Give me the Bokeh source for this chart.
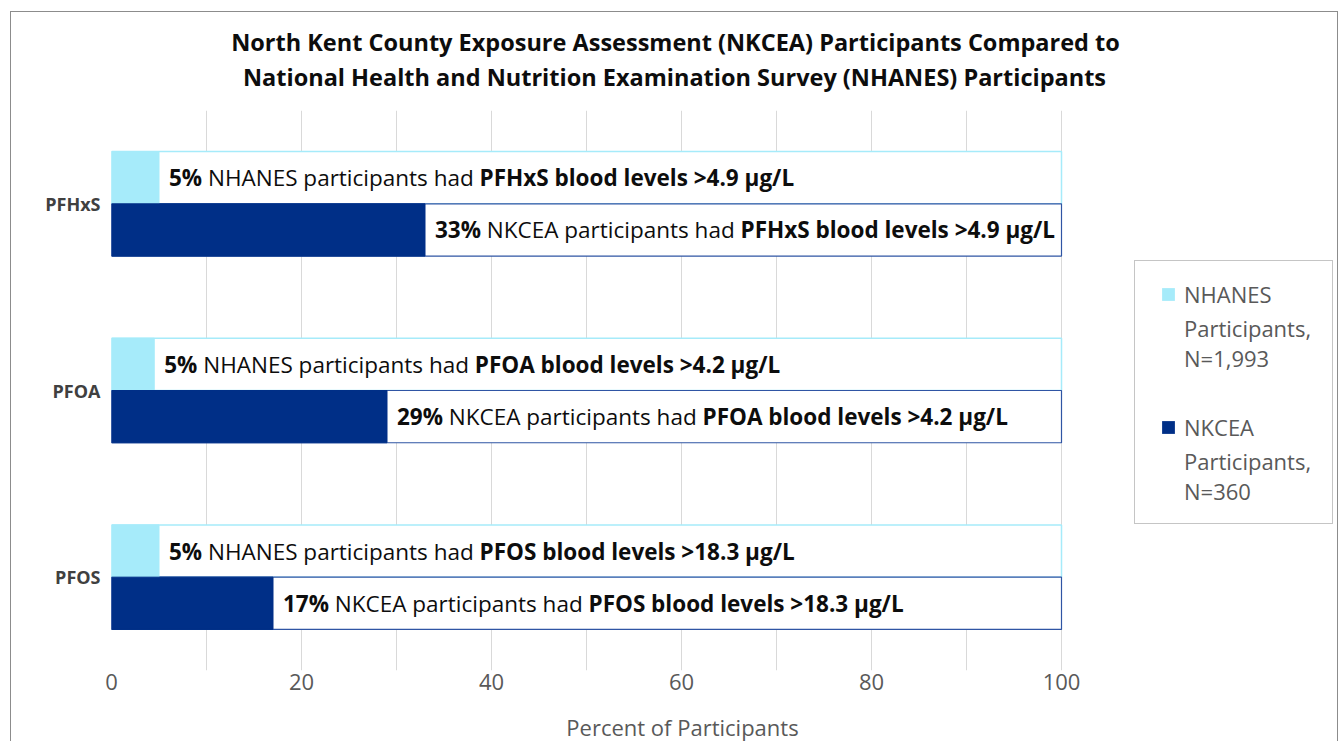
from bokeh.plotting import figure
from bokeh.models import (ColumnDataSource, FactorRange, FixedTicker, Range1d,
                          CustomJS, CDSView, IndexFilter, Legend, LegendItem, Title)
from bokeh.core.properties import value
from bokeh.transform import dodge
from bokeh.document import Document
from bokeh.embed import file_html
from bokeh.resources import INLINE

# ---------------- data ----------------
chemicals = ["PFHxS", "PFOA", "PFOS"]
thresholds = ["4.9", "4.2", "18.3"]
nhanes_pct = [5.0, 4.5, 5.0]
nkcea_pct = [33.0, 29.0, 17.0]
nhanes_label = ["5%", "5%", "5%"]
nkcea_label = ["33%", "29%", "17%"]
series_short = ["NHANES", "NKCEA"]
series_n = ["N=1,993", "N=360"]
x_ticks = [0, 20, 40, 60, 80, 100]
x_grid = [0, 10, 20, 30, 40, 50, 60, 70, 80, 90, 100]
title_lines = ["North Kent County Exposure Assessment (NKCEA) Participants Compared to",
               "National Health and Nutrition Examination Survey (NHANES) Participants"]
x_title = "Percent of Participants"

# ---------------- style ----------------
C_LIGHT = "#A6EBFA"
C_DARK = "#002F87"
FONT = "Open Sans"
W, H = 1340, 741
FL, FT, FB = 111, 110, 71                  # frame left / top / bottom border (px)
FW = W - FL
PX_PER_UNIT = 9.5                          # 0..100 spans 950 px
BAR_H = 0.28
OFF = 0.14
TXT = 22.5
TITLE_SIZE = 23.5

p = figure(width=W, height=H, output_backend="svg", toolbar_location=None,
           y_range=FactorRange(factors=list(reversed(chemicals))),
           x_range=Range1d(0, FW / PX_PER_UNIT),
           min_border_left=FL, min_border_right=0,
           min_border_top=FT, min_border_bottom=FB)
p.title = None
p.outline_line_color = None
p.background_fill_color = None
p.border_fill_color = None
p.styles = {
    "background-color": "white",
    "background-image": ("linear-gradient(#8C8C8C,#8C8C8C), linear-gradient(#8C8C8C,#8C8C8C), "
                         "linear-gradient(#8C8C8C,#8C8C8C)"),
    "background-size": "1px 760px, 1328px 1px, 1px 760px",
    "background-position": "10px 11px, 10px 11px, 1337px 11px",
    "background-repeat": "no-repeat",
}

src = ColumnDataSource(dict(cat=chemicals, nh=nhanes_pct, nk=nkcea_pct,
                            full=[100] * len(chemicals)))

y_nh = dodge("cat", OFF, range=p.y_range)
y_nk = dodge("cat", -OFF, range=p.y_range)
p.hbar(y=y_nh, left=0, right="full", height=BAR_H, source=src,
       fill_color="white", line_color=C_LIGHT, line_width=1.5)
p.hbar(y=y_nk, left=0, right="full", height=BAR_H, source=src,
       fill_color="white", line_color="#2F55A4", line_width=1.2)
p.hbar(y=y_nh, left=0, right="nh", height=BAR_H, source=src,
       fill_color=C_LIGHT, line_color=C_LIGHT, line_width=1)
p.hbar(y=y_nk, left=0, right="nk", height=BAR_H, source=src,
       fill_color=C_DARK, line_color=C_DARK, line_width=1)

# legend swatches: square markers on the bar ends with zero size in the plot
# (the legend draws them at a size derived from its glyph box)
sw_nh = p.scatter(x="nh", y=y_nh, source=src, size=0, marker="square",
                  fill_color=C_LIGHT, line_color=None)
sw_nk = p.scatter(x="nk", y=y_nk, source=src, size=0, marker="square",
                  fill_color=C_DARK, line_color=None)
sw_blank = p.scatter(x=[], y=[], marker="square", fill_color=None, line_color=None)

# ---------------- bar labels (mixed bold / regular) ----------------
cols = dict(x=[], cat=[], dy=[], text=[], fstyle=[], gid=[], xoff=[])
gid = 0
for i, chem in enumerate(chemicals):
    for pct, lab, who, off in ((nhanes_pct[i], nhanes_label[i], series_short[0], OFF),
                               (nkcea_pct[i], nkcea_label[i], series_short[1], -OFF)):
        segs = [(lab, "bold"), ("%s participants had" % who, "normal"),
                ("%s blood levels >%s µg/L" % (chem, thresholds[i]), "bold")]
        acc = 10.0
        for t, st in segs:
            cols["x"].append(pct)
            cols["cat"].append(chem)
            cols["dy"].append(off)
            cols["text"].append(t)
            cols["fstyle"].append(st)
            cols["gid"].append(gid)
            cols["xoff"].append(acc)
            acc += len(t) * TXT * (0.6 if st == "bold" else 0.55) + TXT * 0.26
        gid += 1
lab_src = ColumnDataSource(cols)

for off in (OFF, -OFF):
    idx = [k for k, d in enumerate(cols["dy"]) if d == off]
    p.text(x="x", y=dodge("cat", off, range=p.y_range), text="text", source=lab_src,
           view=CDSView(filter=IndexFilter(idx)),
           x_offset="xoff", text_font=value(FONT), text_font_size="%spx" % TXT,
           text_font_style="fstyle", text_color="#0D0D0D",
           text_align="left", text_baseline="middle")

# ---------------- axes & grid ----------------
p.xaxis.ticker = FixedTicker(ticks=x_ticks)
p.xgrid.ticker = FixedTicker(ticks=x_grid)
p.xgrid.grid_line_color = "#D9D9D9"
p.ygrid.grid_line_color = None
p.xaxis.axis_line_color = None
p.xaxis.major_tick_line_color = None
p.xaxis.minor_tick_line_color = None
p.xaxis.major_tick_out = 0
p.xaxis.major_tick_in = 0
p.xaxis.minor_tick_out = 0
p.xaxis.major_label_standoff = 3
p.xaxis.major_label_text_font = FONT
p.xaxis.major_label_text_font_size = "22px"
p.xaxis.major_label_text_color = "#595959"

p.yaxis.axis_line_color = None
p.yaxis.major_tick_line_color = None
p.yaxis.major_tick_out = 0
p.yaxis.major_tick_in = 0
p.yaxis.major_label_standoff = 11
p.yaxis.major_label_text_font = FONT
p.yaxis.major_label_text_font_size = "18px"
p.yaxis.major_label_text_font_style = "bold"
p.yaxis.major_label_text_color = "#404040"

# ---------------- titles ----------------
spacer = Title(text=" ", text_font_size="1px", standoff=14)
t2 = Title(text=title_lines[1], align="left", offset=110, standoff=2,
           text_font=FONT, text_font_size="%spx" % TITLE_SIZE, text_font_style="bold",
           text_color="#0D0D0D")
t1 = Title(text=title_lines[0], align="left", offset=100, standoff=0,
           text_font=FONT, text_font_size="%spx" % TITLE_SIZE, text_font_style="bold",
           text_color="#0D0D0D")
p.add_layout(spacer, "above")
p.add_layout(t2, "above")
p.add_layout(t1, "above")

spacer_b = Title(text=" ", text_font_size="1px", standoff=14)
xt = Title(text=x_title, align="left", offset=455, standoff=0, vertical_align="bottom",
           text_font=FONT, text_font_size="22px", text_font_style="normal",
           text_color="#595959")
p.add_layout(spacer_b, "below")
p.add_layout(xt, "below")

# ---------------- legend ----------------
legend = Legend(items=[LegendItem(label=series_short[0], renderers=[sw_nh]),
                       LegendItem(label="Participants,\n%s" % series_n[0], renderers=[sw_blank]),
                       LegendItem(label=" ", renderers=[sw_blank]),
                       LegendItem(label=series_short[1], renderers=[sw_nk]),
                       LegendItem(label="Participants,\n%s" % series_n[1], renderers=[sw_blank])],
                location=(1023, 146),
                padding=17, spacing=3, margin=0,
                glyph_width=32, glyph_height=32, label_standoff=0, label_width=131,
                label_text_font=FONT, label_text_font_size="22px",
                label_text_color="#595959",
                border_line_color="#8C8C8C", border_line_width=1,
                background_fill_alpha=0)
p.add_layout(legend)

# ---------------- text measurement in the browser ----------------
measure = CustomJS(args=dict(source=lab_src, size="%spx" % TXT, font=FONT,
                             tsize="%spx" % TITLE_SIZE,
                             t1=t1, t2=t2, xt=xt, fl=FL), code="""
function run() {
  const ctx = document.createElement('canvas').getContext('2d');
  const f = (bold, sz) => (bold ? 'bold ' : '') + sz + " '" + font + "'";
  const d = source.data;
  const n = d.text.length;
  const off = new Array(n);
  const cur = {};
  ctx.font = f(false, size);
  const sp = ctx.measureText(' ').width;
  for (let i = 0; i < n; i++) {
    const g = d.gid[i];
    if (!(g in cur)) cur[g] = 10;
    off[i] = cur[g];
    ctx.font = f(d.fstyle[i] == 'bold', size);
    cur[g] += ctx.measureText(d.text[i]).width + sp;
  }
  source.data = Object.assign({}, d, {xoff: off});
  ctx.font = f(true, tsize);
  t1.offset = 675 - fl - ctx.measureText(t1.text).width / 2;
  t2.offset = 674 - fl - ctx.measureText(t2.text).width / 2;
  ctx.font = f(false, '22px');
  xt.offset = 682 - fl - ctx.measureText(xt.text).width / 2;
}
run();
if (document.fonts && document.fonts.ready) { document.fonts.ready.then(run); }
""")

doc = Document()
doc.add_root(p)
doc.js_on_event("document_ready", measure)
open("out.html", "w").write(file_html(doc, INLINE))
